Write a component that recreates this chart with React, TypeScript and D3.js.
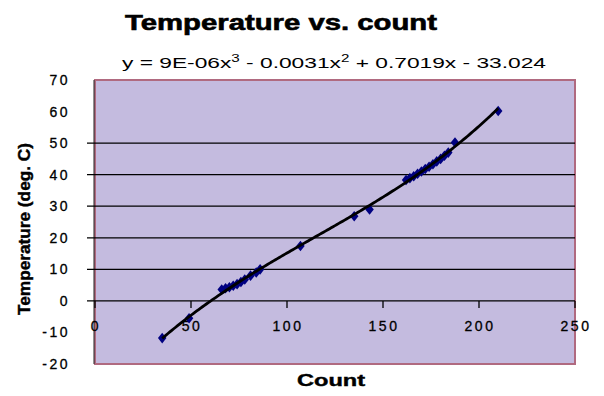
import React from 'react';
import * as d3 from 'd3';

// readings (count -> temperature)
const counts = [35, 49, 66, 68, 70, 72, 74, 76, 78, 81, 84, 86, 107, 135, 143,
  162, 164, 166, 168, 170, 172, 174, 176, 178, 180, 182, 184, 187.5, 210];
const temps = [-11.8, -5.5, 3.6, 4, 4.3, 4.8, 5.3, 6, 6.8, 8, 9, 10, 17.4, 26.8, 29,
  38.3, 38.9, 39.5, 40.3, 41, 41.8, 42.5, 43.3, 44.2, 45, 46, 47, 50.2, 60.2];

// cubic trendline coefficients (x^3, x^2, x, 1)
const coefs = [9e-6, -0.0031, 0.7019, -33.024];

const xTicks = [0, 50, 100, 150, 200, 250];
const yTicks = [-20, -10, 0, 10, 20, 30, 40, 50, 60, 70];
const gridTicks = [10, 20, 30, 40, 50];

const App = () => {
  const width = 604;
  const height = 396;
  const plot = {left: 95, right: 575, top: 80, bottom: 364};

  const x = d3.scaleLinear().domain([0, 250]).range([plot.left, plot.right]);
  const y = d3.scaleLinear().domain([-20, 70]).range([plot.bottom, plot.top]);

  const fit = (v) => coefs[0] * v * v * v + coefs[1] * v * v + coefs[2] * v + coefs[3];
  const xs = d3.range(d3.min(counts), d3.max(counts) + 0.5, 1);
  const trend = d3.line().x(d => x(d)).y(d => y(fit(d)))(xs);

  const diamond = d3.symbol().type(d3.symbolDiamond).size(40)();
  const y0 = y(0);

  return (
    <svg width={width} height={height} style={{position: 'absolute', left: 0, top: 0, background: '#fff'}}
      fontFamily="'Liberation Sans', Arial, sans-serif">
      <text x={281} y={30} textAnchor="middle" fontSize={22} fontWeight="bold" stroke="#000" strokeWidth={0.6}
        textLength={312} lengthAdjust="spacingAndGlyphs">Temperature vs. count</text>
      <text x={334} y={68} textAnchor="middle" fontSize={15} textLength={424} lengthAdjust="spacingAndGlyphs">
        y = 9E-06x<tspan dy={-6} fontSize={10}>3</tspan><tspan dy={6}> - 0.0031x</tspan><tspan dy={-6} fontSize={10}>2</tspan><tspan dy={6}> + 0.7019x - 33.024</tspan>
      </text>

      <rect x={plot.left} y={plot.top} width={plot.right - plot.left} height={plot.bottom - plot.top}
        fill="#C4BBDF" stroke="#B06A80" strokeWidth={2} />
      <line x1={plot.left - 1} x2={plot.left - 1} y1={plot.top} y2={plot.bottom} stroke="#222" strokeWidth={1} />

      {gridTicks.map(t => (
        <line key={'g' + t} x1={plot.left - 8} x2={plot.right} y1={y(t)} y2={y(t)} stroke="#000" strokeWidth={1.3} />
      ))}
      <line x1={plot.left - 8} x2={plot.right} y1={y0} y2={y0} stroke="#000" strokeWidth={1.3} />
      {xTicks.map(t => (
        <line key={'xt' + t} x1={x(t)} x2={x(t)} y1={y0} y2={y0 + 7} stroke="#000" strokeWidth={1.3} />
      ))}

      {yTicks.map(t => (
        <text key={'yl' + t} x={70} y={y(t) + 5} textAnchor="end" fontSize={14} letterSpacing={2.5}
          stroke="#000" strokeWidth={0.3}>{t}</text>
      ))}
      {xTicks.map(t => (
        <text key={'xl' + t} x={x(t) + 1} y={331} textAnchor="middle" fontSize={14} letterSpacing={2.5}
          stroke="#000" strokeWidth={0.3}>{t}</text>
      ))}

      <g fill="#000080">
        {counts.map((c, i) => (
          <path key={'p' + i} d={diamond} transform={`translate(${x(c)},${y(temps[i])}) scale(1.25,0.9)`} />
        ))}
      </g>
      <path d={trend} fill="none" stroke="#000" strokeWidth={2.8} />

      <text x={331} y={386} textAnchor="middle" fontSize={16} fontWeight="bold" stroke="#000" strokeWidth={0.4}
        textLength={68} lengthAdjust="spacingAndGlyphs">Count</text>
      <text transform="translate(30,229) rotate(-90)" textAnchor="middle" fontSize={17} fontWeight="bold"
        fontFamily="'Liberation Sans Narrow', 'Arial Narrow', sans-serif" stroke="#000" strokeWidth={0.4}
        textLength={172} lengthAdjust="spacingAndGlyphs">Temperature (deg. C)</text>
    </svg>
  );
};

export default App;
